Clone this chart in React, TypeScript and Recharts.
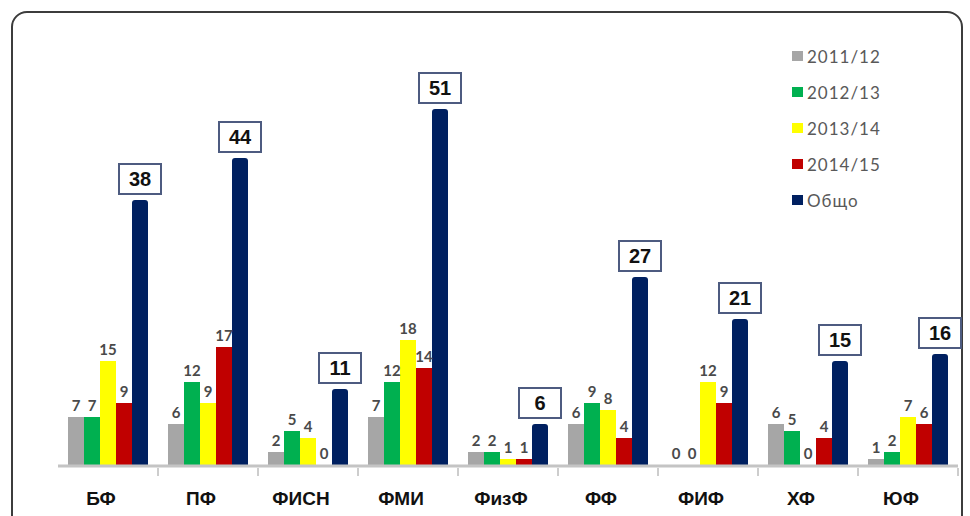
import * as React from 'react';
import { BarChart, Bar, XAxis, YAxis, LabelList } from 'recharts';

// Faculties and yearly counts
const categories = ['БФ', 'ПФ', 'ФИСН', 'ФМИ', 'ФизФ', 'ФФ', 'ФИФ', 'ХФ', 'ЮФ'];
const y2011 = [7, 6, 2, 7, 2, 6, 0, 6, 1];
const y2012 = [7, 12, 5, 12, 2, 9, 0, 5, 2];
const y2013 = [15, 9, 4, 18, 1, 8, 12, 0, 7];
const y2014 = [9, 17, 0, 14, 1, 4, 9, 4, 6];
const totals = [38, 44, 11, 51, 6, 27, 21, 15, 16];

const series = [
  { key: 's2011', name: '2011/12', color: '#a6a6a6' },
  { key: 's2012', name: '2012/13', color: '#00b050' },
  { key: 's2013', name: '2013/14', color: '#ffff00' },
  { key: 's2014', name: '2014/15', color: '#c00000' },
  { key: 'total', name: 'Общо', color: '#002060' },
];

const data = categories.map((c, i) => ({
  name: c,
  s2011: y2011[i],
  s2012: y2012[i],
  s2013: y2013[i],
  s2014: y2014[i],
  total: totals[i],
}));

const LABEL_FONT = '"Lato", "Liberation Sans", sans-serif';

function CategoryTick(props: any) {
  const { x, y, payload } = props;
  return (
    <g>
      <line x1={x + 50} x2={x + 50} y1={y - 6} y2={y + 2} stroke="#bdbdbd" strokeWidth={1.5} />
      <text
        x={x - 7}
        y={y + 31}
        textAnchor="middle"
        fontFamily='"Liberation Sans", Arial, sans-serif'
        fontWeight="bold"
        fontSize={19}
        fill="#111"
      >
        {payload.value}
      </text>
    </g>
  );
}

function ValueLabel(props: any) {
  const { x, y, width, value } = props;
  return (
    <text
      x={x + width / 2}
      y={y - 6}
      textAnchor="middle"
      fontFamily={LABEL_FONT}
      fontWeight="bold"
      fontSize={15}
      fill="#4a4a4a"
    >
      {value}
    </text>
  );
}

function TotalBox(props: any) {
  const { x, y, width, value } = props;
  const cx = x + width / 2;
  const w = 42;
  const h = 30;
  return (
    <g>
      <rect x={cx - w / 2} y={y - h - 6} width={w} height={h} fill="#fff" stroke="#4d5b80" strokeWidth={2} />
      <text
        x={cx}
        y={y - 14}
        textAnchor="middle"
        fontFamily='"Liberation Sans", Arial, sans-serif'
        fontWeight="bold"
        fontSize={20}
        fill="#111"
      >
        {value}
      </text>
    </g>
  );
}

function LegendBox() {
  return (
    <div
      style={{
        position: 'absolute', left: 792, top: 38,
        fontFamily: LABEL_FONT, fontSize: 17, letterSpacing: 1, color: '#595959',
      }}
    >
      {series.map(s => (
        <div key={s.key} style={{ height: 36, display: 'flex', alignItems: 'center' }}>
          <span style={{ display: 'inline-block', width: 11, height: 10, background: s.color, marginRight: 4 }} />
          {s.name}
        </div>
      ))}
    </div>
  );
}

export default function App() {
  return (
    <div style={{ position: 'absolute', left: 0, top: 0, width: 970, height: 516, overflow: 'hidden', background: '#fff' }}>
      <div
        style={{
          position: 'absolute', left: 11, top: 11, width: 952, height: 520,
          border: '2px solid #3c3c3c', borderRadius: 16, boxSizing: 'border-box',
        }}
      />
      <div style={{ position: 'absolute', left: 0, top: 0 }}>
        <BarChart
          width={970}
          height={516}
          data={data}
          margin={{ top: 46, right: 12, left: 58, bottom: 20 }}
          barGap={0}
        >
          <XAxis
            dataKey="name"
            height={30}
            axisLine={{ stroke: '#c4c4c4', strokeWidth: 3 }}
            tickLine={false}
            tick={<CategoryTick />}
            interval={0}
          />
          <YAxis hide domain={[0, 60]} />
          {series.slice(0, 4).map(s => (
            <Bar
              key={s.key}
              dataKey={s.key}
              name={s.name}
              fill={s.color}
              barSize={16}
              minPointSize={1}
              isAnimationActive={false}
            >
              <LabelList dataKey={s.key} content={<ValueLabel />} />
            </Bar>
          ))}
          <Bar dataKey="total" name="Общо" fill="#002060" barSize={16} radius={[3, 3, 0, 0]} isAnimationActive={false}>
            <LabelList dataKey="total" content={<TotalBox />} />
          </Bar>
        </BarChart>
      </div>
      <LegendBox />
    </div>
  );
}
